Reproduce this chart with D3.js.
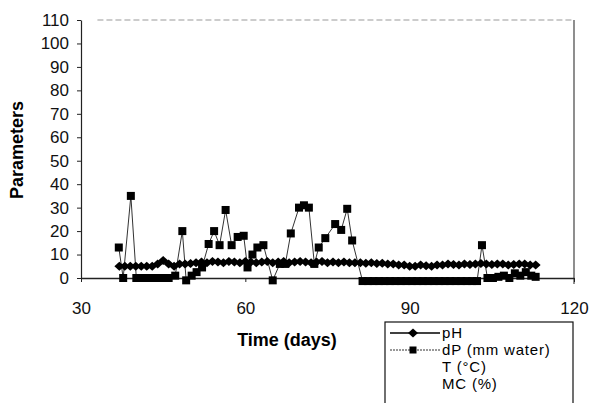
<!DOCTYPE html>
<html>
<head>
<meta charset="utf-8">
<script src="https://cdn.jsdelivr.net/npm/d3@7"></script>
<style>
  body { margin: 0; background: #fff; }
  svg { display: block; font-family: Arial, "Liberation Sans", sans-serif; }
  .axis text { font-size: 17px; fill: #111; }
  .axis path, .axis line { stroke: #222; }
</style>
</head>
<body>
<svg id="chart"></svg>
<script>
'use strict';

// values
var phDays = [37, 38, 39, 40, 41, 42, 43, 44, 45, 46, 47, 48, 49, 50, 51, 52, 53, 54, 55, 56,
    57, 58, 59, 60, 61, 62, 63, 64, 65, 66, 67, 68, 69, 70, 71, 72, 73, 74, 75, 76,
    77, 78, 79, 80, 81, 82, 83, 84, 85, 86, 87, 88, 89, 90, 91, 92, 93, 94, 95, 96,
    97, 98, 99, 100, 101, 102, 103, 104, 105, 106, 107, 108, 109, 110, 111, 112, 113];
var phValues = [5, 5, 5, 5, 5, 5, 5, 6, 7.5, 6, 5, 6, 6, 6.2, 6.5, 6.8, 6.5, 7, 6.8, 6.5,
    7, 6.8, 6.5, 7, 6.8, 6.5, 6.8, 7, 6.5, 6.8, 7, 6.5, 6.8, 7, 6.8, 6.5, 6.8, 7, 6.5, 6.8,
    6.5, 6.8, 6.5, 6.5, 6.5, 6.3, 6.5, 6.2, 6.3, 6, 6, 5.5, 5.5, 5, 5, 5.5, 5.2, 5, 5.5, 5.5,
    6, 5.8, 5.5, 6, 5.8, 6, 6.2, 6, 5.8, 6, 6, 5.5, 5.8, 6, 6, 5.5, 5.5];

var dpDays = [36.9, 37.7, 39.1, 40.1, 41, 42, 43.3, 44.2, 45.1, 46, 47.2, 48.5, 49.2, 50.2,
    51.1, 52.1, 53.3, 54.3, 55.3, 56.4, 57.5, 58.6, 59.7, 60.4, 61.3, 62.2, 63.3, 65,
    66.3, 67.3, 68.3, 69.8, 70.7, 71.6, 72.6, 73.4, 74.6, 76.4, 77.5, 78.6, 79.5, 81.4,
    82.4, 83.4, 84.4, 85.4, 86.4, 87.4, 88.4, 89.4, 90.4, 91.4, 92.4, 93.4, 94.4, 95.4,
    96.4, 97.4, 98.4, 99.4, 100.4, 101.4, 102.3, 103.2, 104.2, 105.2, 106.2, 107.2,
    108.2, 109.2, 110.2, 111.2, 112.2, 113];
var dpValues = [13, 0, 35, 0, 0, 0, 0, 0, 0, 0, 1, 20, -1, 1,
    2.5, 4.5, 14.5, 20, 14, 29, 14, 17.5, 18, 4.5, 10, 13, 14, -1,
    6, 6, 19, 30, 31, 30, 6, 13, 17, 23, 20.5, 29.5, 16, -1.3,
    -1.3, -1.3, -1.3, -1.3, -1.3, -1.3, -1.3, -1.3, -1.3, -1.3, -1.3, -1.3, -1.3, -1.3,
    -1.3, -1.3, -1.3, -1.3, -1.3, -1.3, -1.3, 14, 0, 0, 0.5, 1,
    0, 2, 1, 2.5, 1, 0.5];

var yTicks = [0, 10, 20, 30, 40, 50, 60, 70, 80, 90, 100, 110];
var xTicks = [30, 60, 90, 120];
var legendLabels = ['pH', 'dP (mm water)', 'T (\u00b0C)', 'MC (%)'];

var svgWidth = 591, svgHeight = 403,
    margin = { top: 20, right: 17, bottom: 125, left: 81 },
    width = svgWidth - margin.left - margin.right,
    height = svgHeight - margin.top - margin.bottom;

var svg = d3.select('#chart')
    .attr('width', svgWidth)
    .attr('height', svgHeight);

svg.append('rect').attr('width', svgWidth).attr('height', svgHeight).attr('fill', '#fff');

var xScale = d3.scaleLinear().domain([30, 120]).range([margin.left, margin.left + width]);
var yScale = d3.scaleLinear().domain([0, 110]).range([margin.top + height, margin.top]);

// plot frame (top faint, right grey)
svg.append('line')
    .attr('x1', xScale(33)).attr('x2', xScale(120))
    .attr('y1', yScale(110)).attr('y2', yScale(110))
    .attr('stroke', '#999').attr('stroke-width', 1).attr('stroke-dasharray', '6,3');
svg.append('line')
    .attr('x1', xScale(120)).attr('x2', xScale(120))
    .attr('y1', yScale(110)).attr('y2', yScale(0) + 6)
    .attr('stroke', '#444').attr('stroke-width', 1.2);

var yAxis = d3.axisLeft(yScale).tickValues(yTicks).tickSize(4).tickPadding(8).tickSizeOuter(0);
var gy = svg.append('g').attr('class', 'axis')
    .attr('transform', 'translate(' + margin.left + ',0)')
    .call(yAxis);
gy.select('.domain').attr('stroke', '#555').attr('stroke-width', 1.2);

var xAxis = d3.axisBottom(xScale).tickValues(xTicks).tickSize(4).tickPadding(20).tickSizeOuter(0);
var gx = svg.append('g').attr('class', 'axis')
    .attr('transform', 'translate(0,' + yScale(0) + ')')
    .call(xAxis);
gx.select('.domain').attr('stroke', '#111').attr('stroke-width', 1.5);

// axis titles
svg.append('text')
    .attr('transform', 'translate(23,' + (margin.top + 130) + ') rotate(-90)')
    .attr('text-anchor', 'middle')
    .attr('font-size', 18).attr('font-weight', 'bold')
    .text('Parameters');
svg.append('text')
    .attr('x', 287).attr('y', 346)
    .attr('text-anchor', 'middle')
    .attr('font-size', 18).attr('font-weight', 'bold')
    .text('Time (days)');

var phData = phDays.map(function(d, i) { return { x: d, y: phValues[i] }; });
var dpData = dpDays.map(function(d, i) { return { x: d, y: dpValues[i] }; });

var line = d3.line()
    .x(function(d) { return xScale(d.x); })
    .y(function(d) { return yScale(d.y); });

var diamond = 'M-5,0L0,-4.5L5,0L0,4.5Z';

// dP series
svg.append('path').attr('d', line(dpData))
    .attr('fill', 'none').attr('stroke', '#333').attr('stroke-width', 1);
svg.append('g').selectAll('rect')
    .data(dpData)
    .enter()
    .append('rect')
    .attr('x', function(d) { return xScale(d.x) - 4; })
    .attr('y', function(d) { return yScale(d.y) - 4; })
    .attr('width', 8).attr('height', 8)
    .attr('fill', '#000');

// pH series
svg.append('path').attr('d', line(phData))
    .attr('fill', 'none').attr('stroke', '#000').attr('stroke-width', 2);
svg.append('g').selectAll('path')
    .data(phData)
    .enter()
    .append('path')
    .attr('d', diamond)
    .attr('transform', function(d) { return 'translate(' + xScale(d.x) + ',' + yScale(d.y) + ')'; })
    .attr('fill', '#000');

// legend
var legend = svg.append('g').attr('transform', 'translate(385,322)');
legend.append('rect')
    .attr('width', 188).attr('height', 95)
    .attr('fill', '#fff').attr('stroke', '#111').attr('stroke-width', 1.2);

var rows = legend.selectAll('g.row')
    .data(legendLabels)
    .enter()
    .append('g')
    .attr('class', 'row')
    .attr('transform', function(d, i) { return 'translate(0,' + (11 + i * 17) + ')'; });

rows.append('text')
    .attr('x', 57).attr('y', 5)
    .attr('font-size', 15)
    .attr('letter-spacing', 0.8)
    .text(function(d) { return d; });

rows.filter(function(d, i) { return i === 0; })
    .call(function(g) {
        g.append('line').attr('x1', 5).attr('x2', 55).attr('y1', 0).attr('y2', 0)
            .attr('stroke', '#000').attr('stroke-width', 1.5);
        g.append('path').attr('d', diamond).attr('transform', 'translate(28,0)').attr('fill', '#000');
    });
rows.filter(function(d, i) { return i === 1; })
    .call(function(g) {
        g.append('line').attr('x1', 5).attr('x2', 55).attr('y1', 0).attr('y2', 0)
            .attr('stroke', '#333').attr('stroke-width', 1).attr('stroke-dasharray', '2,1');
        g.append('rect').attr('x', 24.5).attr('y', -3.5).attr('width', 7).attr('height', 7).attr('fill', '#000');
    });
</script>
</body>
</html>
